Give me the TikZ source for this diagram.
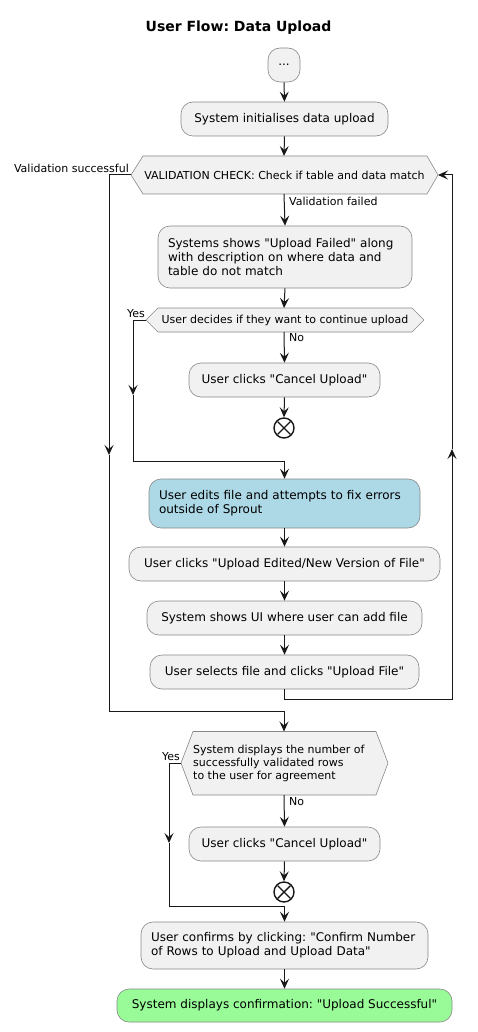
\documentclass[tikz,border=0pt]{standalone}
\usepackage{fontspec}
\setmainfont{DejaVu Sans}[Ligatures=TeXOff]
\usetikzlibrary{arrows.meta}
\definecolor{boxfill}{HTML}{F1F1F1}
\definecolor{boxline}{HTML}{888888}
\definecolor{ln}{HTML}{181818}
\definecolor{blueact}{HTML}{ADD8E6}
\definecolor{greenact}{HTML}{98FB98}
\frenchspacing
\begin{document}
\begin{tikzpicture}[x=1pt,y=-1pt,
 act/.style={draw=boxline, fill=boxfill, line width=0.6pt, rounded corners=12pt, inner sep=0pt, align=left, font=\fontsize{12}{14}\selectfont},
 multi/.style={inner xsep=10pt, inner ysep=0pt},
 hexa/.style={draw=boxline, fill=boxfill, line width=0.6pt},
 hext/.style={inner sep=0pt, align=left, font=\fontsize{11}{13}\selectfont},
 lbl/.style={font=\fontsize{11}{13}\selectfont, inner sep=1pt},
 flow/.style={draw=ln, line width=1pt},
 arr/.style={flow, -{Stealth[length=10pt,width=9pt,inset=4pt]}},
 stopc/.style={circle, draw=ln, line width=1.4pt, fill=white, minimum size=20pt, inner sep=0pt},
 ttl/.style={font=\bfseries\fontsize{14}{16}\selectfont}
]
\useasboundingbox (0,0) rectangle (477,1032);
\node[ttl] (title) at (238.5,27.5) {User Flow: Data Upload};

% nodes
\node[act, minimum width=32pt, minimum height=34pt] (start) at (284,65) {...};
\node[act, minimum width=207pt, minimum height=34pt] (init) at (284.5,119) {System initialises data upload};

\draw[hexa] (131,175) -- (143,156) -- (427,156) -- (438,175) -- (427,194) -- (143,194) -- cycle;
\node[hext] (v) at (284.5,175) {VALIDATION CHECK: Check if table and data match};
\coordinate (vN) at (284,156); \coordinate (vS) at (284,194);
\coordinate (vW) at (131,175); \coordinate (vE) at (438,175);

\node[act, multi, text width=234pt, minimum height=62pt] (fail) at (285,257) {Systems shows "Upload Failed" along\\with description on where data and\\table do not match};

\draw[hexa] (146,320) -- (158,308) -- (412,308) -- (424,320) -- (412,332) -- (158,332) -- cycle;
\node[hext] (d2) at (285,320) {User decides if they want to continue upload};
\coordinate (d2N) at (284,308); \coordinate (d2S) at (284,332);
\coordinate (d2W) at (146,320);

\node[act, minimum width=191pt, minimum height=34pt] (cancelA) at (284.5,380) {User clicks "Cancel Upload"};
\node[stopc] (stopA) at (284,428) {};
\draw[ln, line width=1.4pt] (stopA.center) ++(-6.5,-6.5) -- ++(13,13);
\draw[ln, line width=1.4pt] (stopA.center) ++(-6.5,6.5) -- ++(13,-13);

\node[act, multi, fill=blueact, text width=251pt, minimum height=49pt] (edit) at (284.5,503.5) {User edits file and attempts to fix errors\\outside of Sprout};
\node[act, minimum width=311pt, minimum height=34pt] (upEd) at (284.5,564) {User clicks "Upload Edited/New Version of File"};
\node[act, minimum width=275pt, minimum height=34pt] (ui) at (284.5,618) {System shows UI where user can add file};
\node[act, minimum width=269pt, minimum height=34pt] (sel) at (284.5,672) {User selects file and clicks "Upload File"};

\draw[hexa] (181,763) -- (193,731.5) -- (376,731.5) -- (388,763) -- (376,795) -- (193,795) -- cycle;
\node[hext, anchor=west] (d3) at (193,763) {System displays the number of\\successfully validated rows\\to the user for agreement};
\coordinate (d3N) at (284,731.5); \coordinate (d3S) at (284,795);
\coordinate (d3W) at (181,763);

\node[act, minimum width=191pt, minimum height=34pt] (cancelB) at (284.5,844) {User clicks "Cancel Upload"};
\node[stopc] (stopB) at (284,892) {};
\draw[ln, line width=1.4pt] (stopB.center) ++(-6.5,-6.5) -- ++(13,13);
\draw[ln, line width=1.4pt] (stopB.center) ++(-6.5,6.5) -- ++(13,-13);

\node[act, multi, text width=267pt, minimum height=47pt] (confirm) at (284.5,945.5) {User confirms by clicking: "Confirm Number\\of Rows to Upload and Upload Data"};
\node[act, fill=greenact, minimum width=335pt, minimum height=33pt] (done) at (284.5,1005.5) {System displays confirmation: "Upload Successful"};

% helper coordinates
\coordinate (okA) at (109,455);
\coordinate (okB) at (109,711);
\coordinate (yesA) at (133,395);
\coordinate (yesB) at (133,461);
\coordinate (loopA) at (452,699);
\coordinate (loopB) at (452,449);
\coordinate (yesC) at (169,843);
\coordinate (yesD) at (169,906);

% connectors
\draw[arr] (start.south) -- (init.north);
\draw[arr] (init.south) -- (vN);
\draw[arr] (vS) -- (fail.north);
\draw[arr] (fail.south) -- (d2N);
\draw[arr] (d2S) -- (cancelA.north);
\draw[arr] (cancelA.south) -- (stopA.north);
\draw[arr] (d2W) -| (yesA);
\draw[arr] (yesA) -- (yesB) -| (edit.north);
\draw[arr] (edit.south) -- (upEd.north);
\draw[arr] (upEd.south) -- (ui.north);
\draw[arr] (ui.south) -- (sel.north);
\draw[arr] (sel.south) |- (loopA) -- (loopB);
\draw[arr] (loopB) |- (vE);
\draw[arr] (vW) -| (okA);
\draw[arr] (okA) -- (okB) -| (d3N);
\draw[arr] (d3S) -- (cancelB.north);
\draw[arr] (cancelB.south) -- (stopB.north);
\draw[arr] (d3W) -| (yesC);
\draw[arr] (yesC) -- (yesD) -| (confirm.north);
\draw[arr] (confirm.south) -- (done.north);

% labels
\node[lbl, anchor=east] (lOk) at (130,168) {Validation successful};
\node[lbl, anchor=west] (lFail) at (288,201) {Validation failed};
\node[lbl, anchor=east] (lYesA) at (146,314) {Yes};
\node[lbl, anchor=west] (lNoA) at (288,338) {No};
\node[lbl, anchor=east] (lYesB) at (181,757) {Yes};
\node[lbl, anchor=west] (lNoB) at (288,802) {No};
\end{tikzpicture}
\end{document}
